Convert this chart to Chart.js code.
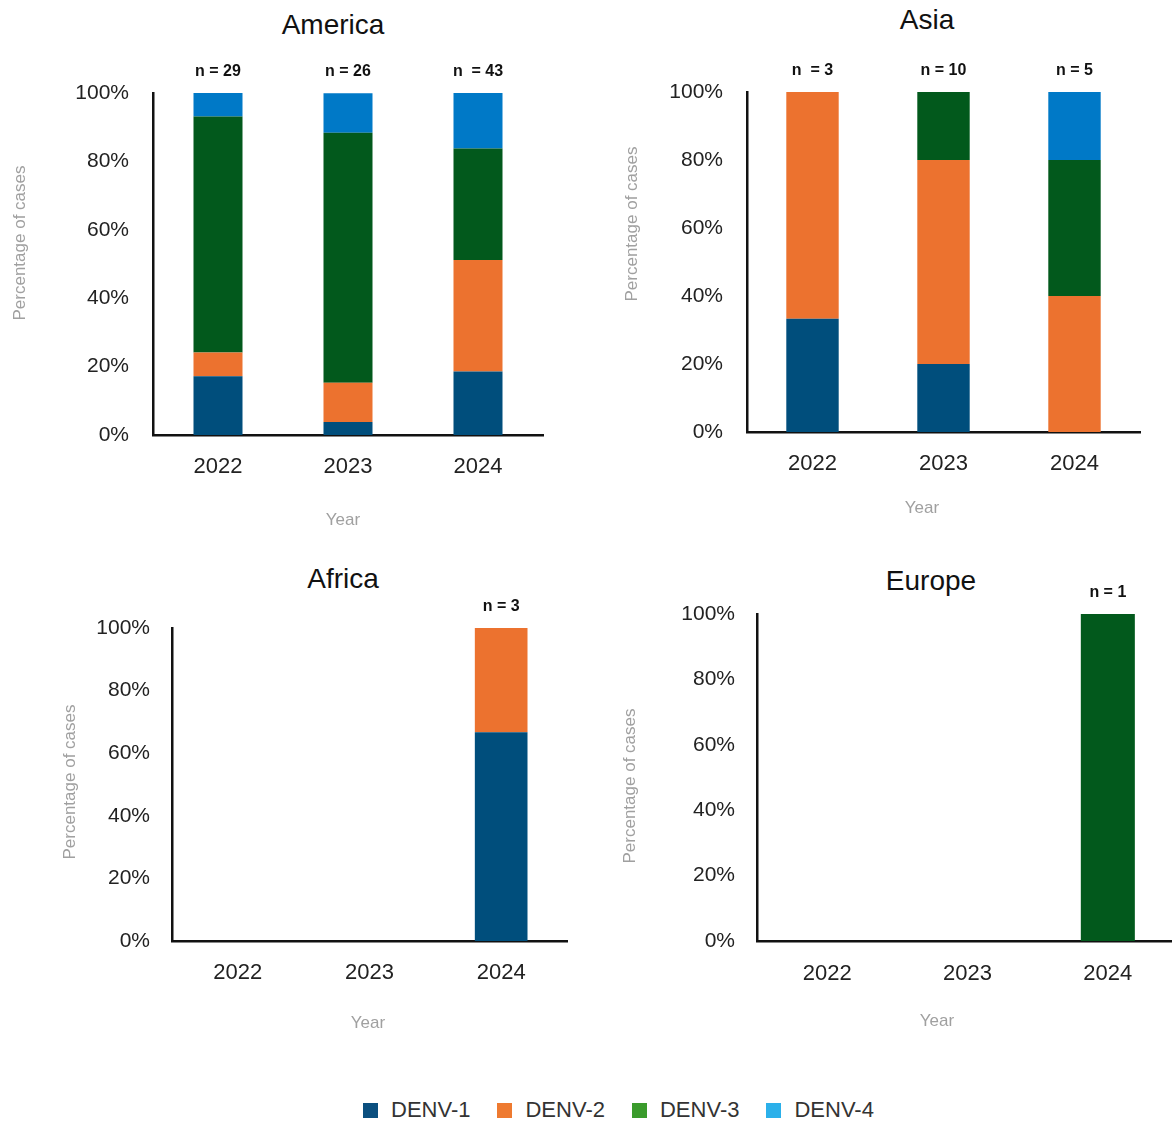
<!DOCTYPE html>
<html>
<head>
<meta charset="utf-8">
<script src="https://cdn.jsdelivr.net/npm/chart.js@4"></script>
<style>
  html, body { margin: 0; padding: 0; background: #fff; overflow: hidden; }
  body { width: 1172px; height: 1122px; position: relative; font-family: "Liberation Sans", Arial, sans-serif; }
  .panel { position: absolute; }
  .titulo { position: absolute; width: 240px; text-align: center; font-size: 28px; line-height: 30px; color: #111; }
  .leyenda { position: absolute; left: 363px; top: 1097px; display: flex; align-items: center; gap: 27px; }
  .item { display: flex; align-items: center; gap: 13px; font-size: 22px; color: #333; }
  .cuadro { width: 15px; height: 15px; }
</style>
</head>
<body>

<div class="titulo" style="left:213px; top:10px;">America</div>
<div class="titulo" style="left:807px; top:5px;">Asia</div>
<div class="titulo" style="left:223px; top:564px;">Africa</div>
<div class="titulo" style="left:811px; top:566px;">Europe</div>

<canvas id="gAmerica" class="panel"></canvas>
<canvas id="gAsia" class="panel"></canvas>
<canvas id="gAfrica" class="panel"></canvas>
<canvas id="gEurope" class="panel"></canvas>

<div class="leyenda" id="leyenda"></div>

<script>
// Datos (porcentaje de casos por serotipo)
const years = ["2022", "2023", "2024"];
const serotypes = ["DENV-1", "DENV-2", "DENV-3", "DENV-4"];

// cada fila = un serotipo (DENV-1..4), columnas = años
const americaPct = [
  [17.2, 3.8, 18.6],
  [6.9, 11.5, 32.6],
  [69.0, 73.1, 32.6],
  [6.9, 11.5, 16.2]
];
const americaN = ["n = 29", "n = 26", "n  = 43"];

const asiaPct = [
  [33.3, 20, 0],
  [66.7, 60, 40],
  [0, 20, 40],
  [0, 0, 20]
];
const asiaN = ["n  = 3", "n = 10", "n = 5"];

const africaPct = [
  [0, 0, 66.7],
  [0, 0, 33.3],
  [0, 0, 0],
  [0, 0, 0]
];
const africaN = ["", "", "n = 3"];

const europePct = [
  [0, 0, 0],
  [0, 0, 0],
  [0, 0, 100],
  [0, 0, 0]
];
const europeN = ["", "", "n = 1"];

// Colores
const barColors = ["#004e7c", "#ec722f", "#02591c", "#0079c7"];
const legendColors = ["#0b4f7f", "#ee7a30", "#3a9b2c", "#2bb0ea"];

const fuente = "'Liberation Sans', Arial, sans-serif";

// Plugin: "n = x" encima de cada barra + titulos de ejes
const etiquetasN = {
  id: "etiquetasN",
  afterDatasetsDraw(chart, args, opts) {
    const ctx = chart.ctx;
    const xScale = chart.scales.x;
    ctx.save();
    ctx.font = "bold 16px " + fuente;
    ctx.fillStyle = "#111";
    ctx.textAlign = "center";
    ctx.textBaseline = "middle";
    opts.labels.forEach((txt, i) => {
      if (!txt) return;
      ctx.fillText(txt, xScale.getPixelForValue(i), chart.chartArea.top - 21);
    });

    // titulos de ejes
    ctx.fillStyle = "#a0a0a0";
    ctx.font = "17px " + fuente;
    ctx.fillText("Year", opts.xTitle[0], opts.xTitle[1]);
    ctx.translate(opts.yTitle[0], opts.yTitle[1]);
    ctx.rotate(-Math.PI / 2);
    ctx.fillText("Percentage of cases", 0, 0);
    ctx.restore();
  }
};

// Funcion para crear cada panel
function crearPanel(id, caja, area, pct, nLabels, barPct) {
  const canvas = document.getElementById(id);
  canvas.style.left = caja.left + "px";
  canvas.style.top = caja.top + "px";
  canvas.width = caja.width;
  canvas.height = caja.height;
  canvas.style.width = caja.width + "px";
  canvas.style.height = caja.height + "px";

  const yWidth = area.left - caja.left;
  const xHeight = caja.top + caja.height - area.bottom;

  return new Chart(canvas, {
    type: "bar",
    data: {
      labels: years,
      datasets: serotypes.map((s, k) => ({
        label: s,
        data: pct[k],
        backgroundColor: barColors[k],
        borderWidth: 0,
        barPercentage: barPct,
        categoryPercentage: 1
      }))
    },
    options: {
      responsive: false,
      animation: false,
      devicePixelRatio: 1,
      layout: {
        padding: {
          top: area.top - caja.top,
          right: caja.left + caja.width - area.right,
          left: 0,
          bottom: 0
        }
      },
      plugins: {
        legend: { display: false },
        tooltip: { enabled: false },
        etiquetasN: {
          labels: nLabels,
          xTitle: [area.yearX - caja.left, area.yearY - caja.top],
          yTitle: [area.ytX - caja.left, area.ytY - caja.top]
        }
      },
      scales: {
        x: {
          stacked: true,
          grid: { display: false, drawTicks: false },
          border: { display: true, color: "#111", width: 2.5 },
          ticks: { color: "#222", font: { family: fuente, size: 22 }, padding: area.tickPadX },
          afterFit(scale) { scale.height = xHeight; }
        },
        y: {
          stacked: true,
          min: 0,
          max: 100,
          grid: { display: false, drawTicks: false },
          border: { display: true, color: "#111", width: 2.5 },
          ticks: {
            stepSize: 20,
            color: "#222",
            font: { family: fuente, size: 21 },
            padding: area.tickPadY,
            callback: v => v + "%"
          },
          afterFit(scale) { scale.width = yWidth; }
        }
      }
    },
    plugins: [etiquetasN]
  });
}

crearPanel("gAmerica",
  { left: 0, top: 40, width: 560, height: 500 },
  { left: 153, right: 543, top: 93, bottom: 435, tickPadX: 19, tickPadY: 24,
    yearX: 343, yearY: 520, ytX: 20, ytY: 243 },
  americaPct, americaN, 0.377);

crearPanel("gAsia",
  { left: 586, top: 40, width: 586, height: 490 },
  { left: 747, right: 1140, top: 92, bottom: 432, tickPadX: 19, tickPadY: 24,
    yearX: 922, yearY: 508, ytX: 632, ytY: 224 },
  asiaPct, asiaN, 0.40);

crearPanel("gAfrica",
  { left: 0, top: 575, width: 590, height: 475 },
  { left: 172, right: 567, top: 628, bottom: 941, tickPadX: 19, tickPadY: 22,
    yearX: 368, yearY: 1023, ytX: 70, ytY: 782 },
  africaPct, africaN, 0.40);

crearPanel("gEurope",
  { left: 586, top: 575, width: 600, height: 475 },
  { left: 757, right: 1178, top: 614, bottom: 941, tickPadX: 20, tickPadY: 22,
    yearX: 937, yearY: 1021, ytX: 630, ytY: 786 },
  europePct, europeN, 0.385);

// Leyenda comun
const leyenda = document.getElementById("leyenda");
serotypes.forEach((s, k) => {
  const item = document.createElement("div");
  item.className = "item";
  item.innerHTML = `<span class="cuadro" style="background:${legendColors[k]}"></span><span>${s}</span>`;
  leyenda.appendChild(item);
});
</script>
</body>
</html>
